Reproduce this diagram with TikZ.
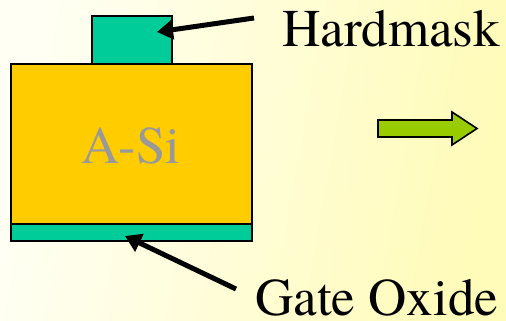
\documentclass[tikz,border=0pt]{standalone}
\usepackage{fontspec}
\newfontfamily\labelfont{texgyretermes-regular.otf}
\usetikzlibrary{arrows.meta}
\definecolor{bgleft}{HTML}{FFFFF4}
\definecolor{bgright}{HTML}{FFFBB8}
\definecolor{polysi}{HTML}{FFCC00}
\definecolor{oxide}{HTML}{00CC99}
\definecolor{flowgreen}{HTML}{99CC00}
\definecolor{labelgray}{HTML}{999999}
\tikzset{
  layer/.style={draw=black, line width=1.6pt, inner sep=0pt, outer sep=0pt},
  bigtext/.style={font=\labelfont\fontsize{53}{60}\selectfont, inner sep=0pt, text=black},
  pointer/.style={line width=5pt, -{Triangle[length=16pt,width=19pt]}},
}
\begin{document}
\begin{tikzpicture}[x=1pt,y=-1pt]
  % page background
  \shade[left color=bgleft, right color=bgright, shading angle=80] (0,0) rectangle (506,321);
  \useasboundingbox (0,0) rectangle (506,321);

  % gate stack
  \node[layer, fill=polysi, minimum width=241pt, minimum height=160pt, anchor=north west] (asi) at (11,64) {};
  \node[layer, fill=oxide, minimum width=241pt, minimum height=17pt, anchor=north west] (gox) at (11,224) {};
  \node[layer, fill=oxide, minimum width=80pt, minimum height=48pt, anchor=south west] (hm) at (92,64) {};

  % labels
  \node[bigtext, text=labelgray, anchor=base] (asilabel) at (131,163) {A-Si};
  \node[bigtext, anchor=base west] (hmlabel) at (282,47) {Hardmask};
  \node[bigtext, anchor=base west] (goxlabel) at (255,315.5) {Gate Oxide};

  % pointer arrows
  \coordinate (hmtail) at (254,18);
  \coordinate (hmtip) at (157,32);
  \coordinate (goxtail) at (236,289);
  \coordinate (goxtip) at (125,236);
  \draw[pointer] (hmtail) -- (hmtip);
  \draw[pointer] (goxtail) -- (goxtip);

  % process-flow block arrow
  \draw[fill=flowgreen, line width=1.6pt, line join=miter]
    (378,120) -- (452,120) -- (452,112) -- (477,128.5) -- (452,145) -- (452,137) -- (378,137) -- cycle;
\end{tikzpicture}
\end{document}
